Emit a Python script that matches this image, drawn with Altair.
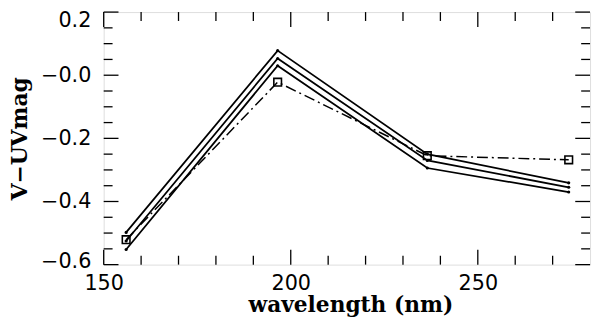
import altair as alt
import pandas as pd

# ---- data ----
wavelength = [156.0, 196.5, 236.5, 274.3]
model_a = [-0.498, 0.078, -0.250, -0.341]
model_b = [-0.525, 0.053, -0.270, -0.355]
model_c = [-0.552, 0.030, -0.294, -0.370]
observed = [-0.521, -0.022, -0.255, -0.268]

x_major = [150, 200, 250]
x_minor = [160, 170, 180, 190, 210, 220, 230, 240, 260, 270]
y_major = [-0.6, -0.4, -0.2, 0.0, 0.2]
y_minor = [-0.55, -0.5, -0.45, -0.35, -0.3, -0.25, -0.15, -0.1, -0.05,
           0.05, 0.1, 0.15]

W, H = 493, 256
XDOM = [150, 280]
YDOM = [-0.6, 0.2]

rows = []
for name, vals in (("a", model_a), ("b", model_b), ("c", model_c)):
    for w, v in zip(wavelength, vals):
        rows.append({"wavelength": w, "mag": v, "series": name})
models = pd.DataFrame(rows)
obs = pd.DataFrame({"wavelength": wavelength, "mag": observed})

xs = alt.Scale(domain=XDOM, nice=False, zero=False)
ys = alt.Scale(domain=YDOM, nice=False, zero=False)

tick_font = "DejaVu Sans"
title_font = "DejaVu Serif"

x_enc = alt.X(
    "wavelength:Q", scale=xs,
    axis=alt.Axis(
        values=x_major, ticks=False, domain=False, grid=False,
        labelFont=tick_font, labelFontSize=21, labelPadding=8,
        labelColor="black", labelFlush=False,
        title="wavelength (nm)", titleFont=title_font, titleFontSize=22,
        titleFontWeight="bold", titleColor="black",
        titleX=250, titleY=48, titleAnchor="middle", titleAlign="center",
        titleBaseline="alphabetic",
    ),
)
y_enc = alt.Y(
    "mag:Q", scale=ys,
    axis=alt.Axis(
        values=y_major, ticks=False, domain=False, grid=False,
        labelFont=tick_font, labelFontSize=21, labelPadding=13,
        labelColor="black", labelFlush=False,
        labelOffset={"expr": "datum.value > 0.1 ? 9 : (datum.value < -0.5 ? -3 : 0)"},
        labelExpr="datum.value == 0 ? '\u22120.0' : format(datum.value, '.1f')",
        title="V\u2212UVmag", titleFont=title_font, titleFontSize=22,
        titleFontWeight="bold", titleColor="black",
        titleX=-85, titleY=128, titleAngle=-90, titleAlign="center",
        titleBaseline="middle",
    ),
)

lines = alt.Chart(models).mark_line(color="black", strokeWidth=1.8).encode(
    x=x_enc, y=y_enc, detail="series:N"
)
dots = alt.Chart(models).mark_circle(color="black", size=10, opacity=1).encode(
    x=alt.X("wavelength:Q", scale=xs), y=alt.Y("mag:Q", scale=ys)
)
obs_line = alt.Chart(obs).mark_line(
    color="black", strokeWidth=1.5, strokeDash=[11, 4, 2, 4]
).encode(x=alt.X("wavelength:Q", scale=xs), y=alt.Y("mag:Q", scale=ys))
obs_pts = alt.Chart(obs).mark_point(
    shape="square", size=60, filled=False, color="black", strokeWidth=1.6,
    opacity=1
).encode(x=alt.X("wavelength:Q", scale=xs), y=alt.Y("mag:Q", scale=ys))


def xticks(vals, length):
    df = pd.DataFrame({"wavelength": vals})
    base = alt.Chart(df).mark_rule(color="black", strokeWidth=1.3)
    bottom = base.encode(x=alt.X("wavelength:Q", scale=xs),
                         y=alt.value(H), y2=alt.value(H - length))
    top = base.encode(x=alt.X("wavelength:Q", scale=xs),
                      y=alt.value(0), y2=alt.value(length))
    return [bottom, top]


def yticks(vals, length):
    df = pd.DataFrame({"mag": vals})
    base = alt.Chart(df).mark_rule(color="black", strokeWidth=1.3)
    left = base.encode(y=alt.Y("mag:Q", scale=ys),
                       x=alt.value(0), x2=alt.value(length))
    right = base.encode(y=alt.Y("mag:Q", scale=ys),
                        x=alt.value(W), x2=alt.value(W - length))
    return [left, right]


tick_layers = (xticks(x_major, 15) + xticks(x_minor, 9)
               + yticks(y_major, 15) + yticks(y_minor, 9))

chart = alt.layer(lines, dots, obs_line, obs_pts, *tick_layers).properties(
    width=W, height=H,
    autosize=alt.AutoSizeParams(type="none"),
    padding={"left": 97, "top": 2, "right": 3, "bottom": 55},
).configure_view(stroke="black", strokeWidth=1.6).configure(
    background="white"
)

chart.save("out.html", embed_options={"renderer": "svg", "actions": False})
